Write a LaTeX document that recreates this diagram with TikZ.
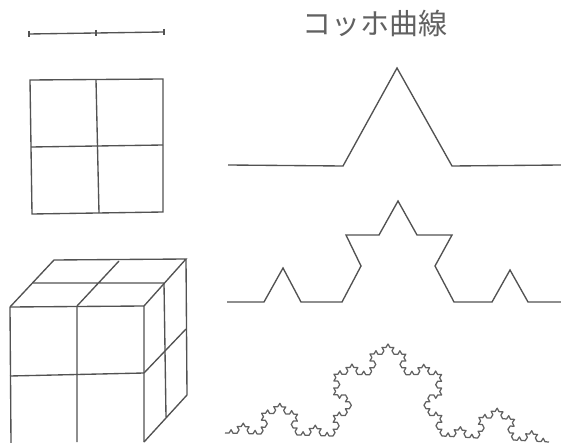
\documentclass[tikz,border=0pt]{standalone}
\usepackage{fontspec}
\newfontfamily\cjk{Noto Sans CJK JP}
\usetikzlibrary{decorations.fractals}
\tikzset{
  sketch/.style={draw=black!68,line width=1.35pt,line join=miter},
  fine/.style={draw=black!62,line width=1.25pt,line join=round},
  koch/.style={decoration={Koch snowflake}}
}
\begin{document}
\begin{tikzpicture}[x=1pt,y=-1pt]
\useasboundingbox (0,0) rectangle (561,443);
% segment
\draw[sketch] (29,34) -- (96,33) -- (164,32);
\draw[sketch] (29,31) -- (29,37) (96,30) -- (96,36) (164,29) -- (164,35);
% square
\draw[sketch] (30,80) -- (163,79) -- (163,212) -- (32,214) -- cycle;
\draw[sketch] (96,80) -- (99,213) (31,147) -- (163,145);
% cube
\draw[sketch] (10,307) -- (144,306) -- (144,442) (10,307) -- (11,443);
\draw[sketch] (77,306) -- (77,442) (10,376) -- (144,373);
\draw[sketch] (10,307) -- (54,260) -- (186,259) -- (144,306);
\draw[sketch] (33,283) -- (164,283) (119,261) -- (77,306);
\draw[sketch] (164,283) -- (166,417) (186,259) -- (187,395) -- (144,442);
\draw[sketch] (144,373) -- (186,329);
% title
\node[anchor=center,inner sep=0pt,text=black!62] (title) at (375,23) {\cjk\fontsize{29}{29}\selectfont コッホ曲線};
% Koch level 1
\draw[sketch] (228,165) -- (343,166) -- (397,68) -- (452,166) -- (561,165);
% Koch level 2
\draw[sketch] (227,302) -- (264,302) -- (283,268) -- (301,302) -- (342,302) -- (361,266) -- (346,235) -- (379,235) -- (398,201) -- (417,235) -- (452,235) -- (435,266) -- (454,302) -- (492,302) -- (510,270) -- (528,302) -- (561,302);
% Koch level 4
\draw[fine,koch] decorate{decorate{decorate{ (225,433) -- (333,436) -- (388,344) -- (442,436) -- (549,442) }}};
\end{tikzpicture}
\end{document}
